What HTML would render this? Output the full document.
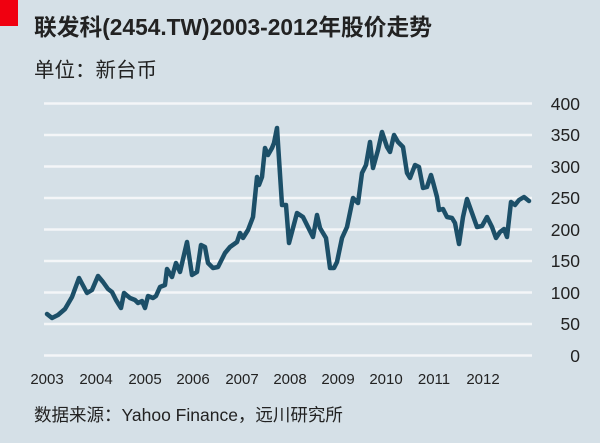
<!DOCTYPE html>
<html><head><meta charset="utf-8"><style>
html,body{margin:0;padding:0;}
body{width:600px;height:443px;background:#d5e0e7;position:relative;overflow:hidden;font-family:"Liberation Sans","Noto Sans CJK SC",sans-serif;color:#222;}
</style></head><body>
<div style="position:absolute;left:0;top:0;width:18px;height:26px;background:#f00010"></div>
<svg width="600" height="443" style="position:absolute;left:0;top:0" font-family="Liberation Sans, Noto Sans CJK SC, sans-serif">
<text x="34" y="35" font-size="23" font-weight="bold" fill="#222" textLength="398" lengthAdjust="spacingAndGlyphs">联发科(2454.TW)2003-2012年股价走势</text>
<text x="34" y="77" font-size="20.5" fill="#222">单位：新台币</text>
<g stroke="#f4f6f8" stroke-width="2.5">
<line x1="44" x2="532" y1="103.5" y2="103.5"/><line x1="44" x2="532" y1="135" y2="135"/>
<line x1="44" x2="532" y1="166.5" y2="166.5"/><line x1="44" x2="532" y1="198" y2="198"/>
<line x1="44" x2="532" y1="229.5" y2="229.5"/><line x1="44" x2="532" y1="261" y2="261"/>
<line x1="44" x2="532" y1="292.5" y2="292.5"/><line x1="44" x2="532" y1="324" y2="324"/>
<line x1="44" x2="532" y1="355.5" y2="355.5"/></g>
<g font-size="17.5" fill="#222" text-anchor="end">
<text x="580" y="110">400</text><text x="580" y="141">350</text><text x="580" y="173">300</text>
<text x="580" y="204">250</text><text x="580" y="236">200</text><text x="580" y="267">150</text>
<text x="580" y="299">100</text><text x="580" y="330">50</text><text x="580" y="362">0</text></g>
<g font-size="15" fill="#222" text-anchor="middle">
<text x="47" y="384">2003</text><text x="96" y="384">2004</text><text x="145" y="384">2005</text>
<text x="193" y="384">2006</text><text x="242" y="384">2007</text><text x="290" y="384">2008</text>
<text x="338" y="384">2009</text><text x="386" y="384">2010</text><text x="434" y="384">2011</text>
<text x="483" y="384">2012</text></g>
<polyline fill="none" stroke="#1c4f68" stroke-width="4.5" stroke-linejoin="round" stroke-linecap="round" points="47,314 52,318 58,315 65,309 72,297 79,278 87,293 92,290 98,276 103,282 108,289 112,292 116,300 121,308 124,293 130,298 135,300 138,303 142,301 145,308 148,296 153,298 156,296 160,287 165,285 167,269 172,277 176,263 180,272 187,242 192,275 197,272 201,245 205,247 208,263 213,268 218,267 225,253 230,247 237,242 240,233 243,238 248,230 253,217 257,177 259,185 262,177 265,148 268,155 272,148 274,143 277,128 282,205 286,205 289,243 297,213 303,217 308,227 313,237 317,215 320,228 326,238 330,268 334,268 337,262 342,238 347,227 353,198 358,203 362,173 366,165 370,142 373,168 378,150 382,132 387,147 390,152 394,135 398,142 403,147 407,173 410,178 415,165 419,167 423,188 427,187 431,175 433,182 437,197 439,210 443,209 447,217 452,218 455,223 459,244 463,217 467,199 472,213 477,227 482,226 487,217 492,227 496,238 500,232 504,229 507,237 511,202 515,205 519,200 524,197 529,201"/>
<text x="34" y="421" font-size="17.5" fill="#222">数据来源：Yahoo Finance，远川研究所</text>
</svg>
</body></html>
